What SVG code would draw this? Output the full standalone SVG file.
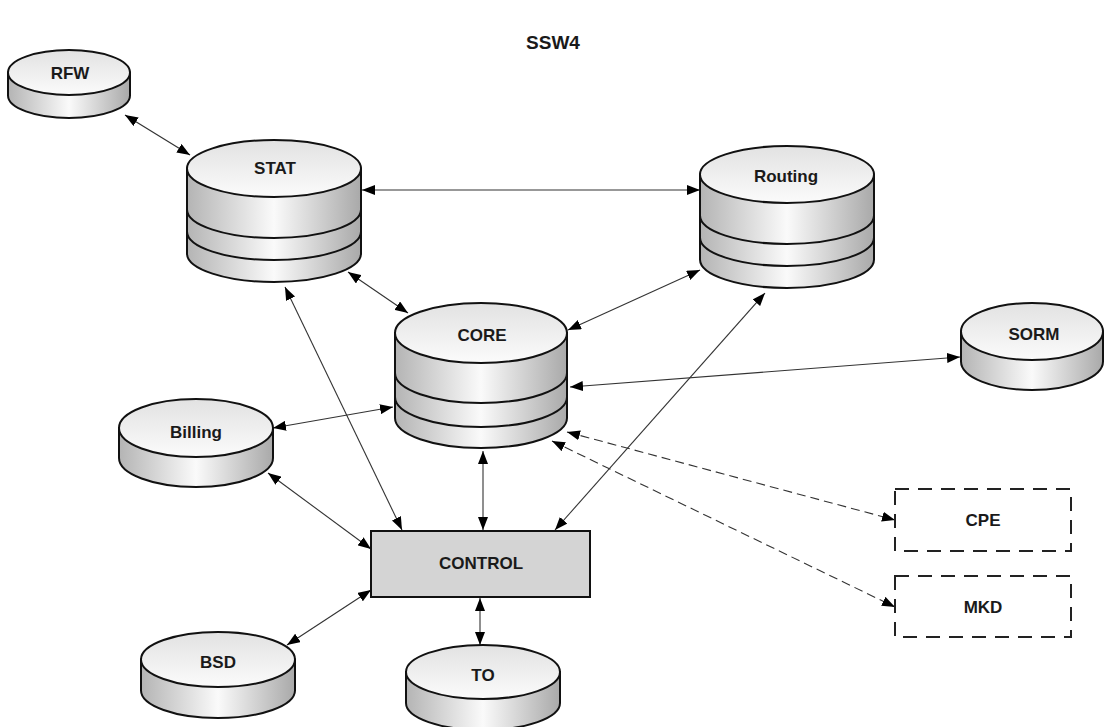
<svg xmlns="http://www.w3.org/2000/svg" width="1105" height="727" viewBox="0 0 1105 727">
<style>
.lbl{font-family:"Liberation Sans",Arial,sans-serif;font-weight:bold;font-size:17px;fill:#1a1a1a;text-anchor:middle}
.title{font-family:"Liberation Sans",Arial,sans-serif;font-weight:bold;font-size:19px;fill:#1a1a1a;text-anchor:middle}
.body{fill:url(#side);stroke:#111;stroke-width:2}
.top{fill:url(#topg);stroke:#111;stroke-width:2}
.band{fill:none;stroke:#111;stroke-width:2}
.conn{fill:none;stroke:#333;stroke-width:1.1;marker-start:url(#ah);marker-end:url(#ah)}
.dash{stroke-dasharray:9,5}
.box{fill:#d4d4d4;stroke:#111;stroke-width:2}
.dbox{fill:none;stroke:#222;stroke-width:2;stroke-dasharray:14,9}
</style>
<defs>
<linearGradient id="side" x1="0" y1="0" x2="1" y2="0">
<stop offset="0" stop-color="#b4b4b4"/>
<stop offset="0.5" stop-color="#fafafa"/>
<stop offset="1" stop-color="#a9a9a9"/>
</linearGradient>
<linearGradient id="topg" x1="0" y1="0" x2="0" y2="1">
<stop offset="0" stop-color="#e2e2e2"/>
<stop offset="1" stop-color="#fbfbfb"/>
</linearGradient>
<marker id="ah" markerUnits="userSpaceOnUse" markerWidth="13" markerHeight="10" refX="13" refY="5" orient="auto-start-reverse">
<path d="M0,0 L13,5 L0,10 z" fill="#000"/>
</marker>
</defs>
<rect width="1105" height="727" fill="#fff"/>
<text class="title" x="553" y="49">SSW4</text>

<g id="connectors">
<line class="conn" x1="125" y1="115" x2="190" y2="155"/>
<line class="conn" x1="362" y1="190" x2="700" y2="190"/>
<line class="conn" x1="348" y1="272" x2="408" y2="313"/>
<line class="conn" x1="700" y1="270" x2="568" y2="330"/>
<line class="conn" x1="570" y1="387" x2="960" y2="357"/>
<line class="conn" x1="273" y1="428" x2="393" y2="407"/>
<line class="conn" x1="285" y1="287" x2="402" y2="530"/>
<line class="conn" x1="765" y1="293" x2="555" y2="530"/>
<line class="conn" x1="483" y1="451" x2="483" y2="530"/>
<line class="conn" x1="268" y1="473" x2="371" y2="549"/>
<line class="conn" x1="287" y1="645" x2="371" y2="590"/>
<line class="conn" x1="480" y1="598" x2="480" y2="645"/>
<line class="conn dash" x1="567" y1="432" x2="895" y2="520"/>
<line class="conn dash" x1="552" y1="441" x2="895" y2="607"/>
</g>

<g id="RFW">
<path class="body" d="M8,72.5 L8,95.5 A61,22.5 0 0 0 130,95.5 L130,72.5 Z"/>
<ellipse class="top" cx="69" cy="72.5" rx="61" ry="22.5"/>
<text class="lbl" x="70" y="79">RFW</text>
</g>

<g id="STAT">
<path class="body" d="M187,168.5 L187,253.5 A87,28.5 0 0 0 361,253.5 L361,168.5 Z"/>
<path class="band" d="M187,209.5 A87,28.5 0 0 0 361,209.5"/>
<path class="band" d="M187,231.5 A87,28.5 0 0 0 361,231.5"/>
<ellipse class="top" cx="274" cy="168.5" rx="87" ry="28.5"/>
<text class="lbl" x="275" y="174">STAT</text>
</g>

<g id="Routing">
<path class="body" d="M700,174.5 L700,259.5 A87,28.5 0 0 0 874,259.5 L874,174.5 Z"/>
<path class="band" d="M700,215.5 A87,28.5 0 0 0 874,215.5"/>
<path class="band" d="M700,237.5 A87,28.5 0 0 0 874,237.5"/>
<ellipse class="top" cx="787" cy="174.5" rx="87" ry="28.5"/>
<text class="lbl" x="786" y="182">Routing</text>
</g>

<g id="CORE">
<path class="body" d="M395,333 L395,418 A86,30 0 0 0 567,418 L567,333 Z"/>
<path class="band" d="M395,373 A86,30 0 0 0 567,373"/>
<path class="band" d="M395,397 A86,30 0 0 0 567,397"/>
<ellipse class="top" cx="481" cy="333" rx="86" ry="30"/>
<text class="lbl" x="482" y="341">CORE</text>
</g>

<g id="SORM">
<path class="body" d="M961,331.5 L961,361.5 A71,28.5 0 0 0 1103,361.5 L1103,331.5 Z"/>
<ellipse class="top" cx="1032" cy="331.5" rx="71" ry="28.5"/>
<text class="lbl" x="1034" y="340">SORM</text>
</g>

<g id="Billing">
<path class="body" d="M119,428 L119,458 A77,29 0 0 0 273,458 L273,428 Z"/>
<ellipse class="top" cx="196" cy="428" rx="77" ry="29"/>
<text class="lbl" x="196" y="438">Billing</text>
</g>

<g id="CONTROL">
<rect class="box" x="371" y="531" width="219" height="66"/>
<text class="lbl" x="481" y="569">CONTROL</text>
</g>

<g id="CPE">
<rect class="dbox" x="895" y="489" width="176" height="62"/>
<text class="lbl" x="983" y="526">CPE</text>
</g>

<g id="MKD">
<rect class="dbox" x="895" y="576" width="176" height="61"/>
<text class="lbl" x="983" y="613">MKD</text>
</g>

<g id="BSD">
<path class="body" d="M141,659.5 L141,690.5 A77,27.5 0 0 0 295,690.5 L295,659.5 Z"/>
<ellipse class="top" cx="218" cy="659.5" rx="77" ry="27.5"/>
<text class="lbl" x="218" y="668">BSD</text>
</g>

<g id="TO">
<path class="body" d="M406,672 L406,703 A77,27 0 0 0 560,703 L560,672 Z"/>
<ellipse class="top" cx="483" cy="672" rx="77" ry="27"/>
<text class="lbl" x="483" y="681">TO</text>
</g>
</svg>
